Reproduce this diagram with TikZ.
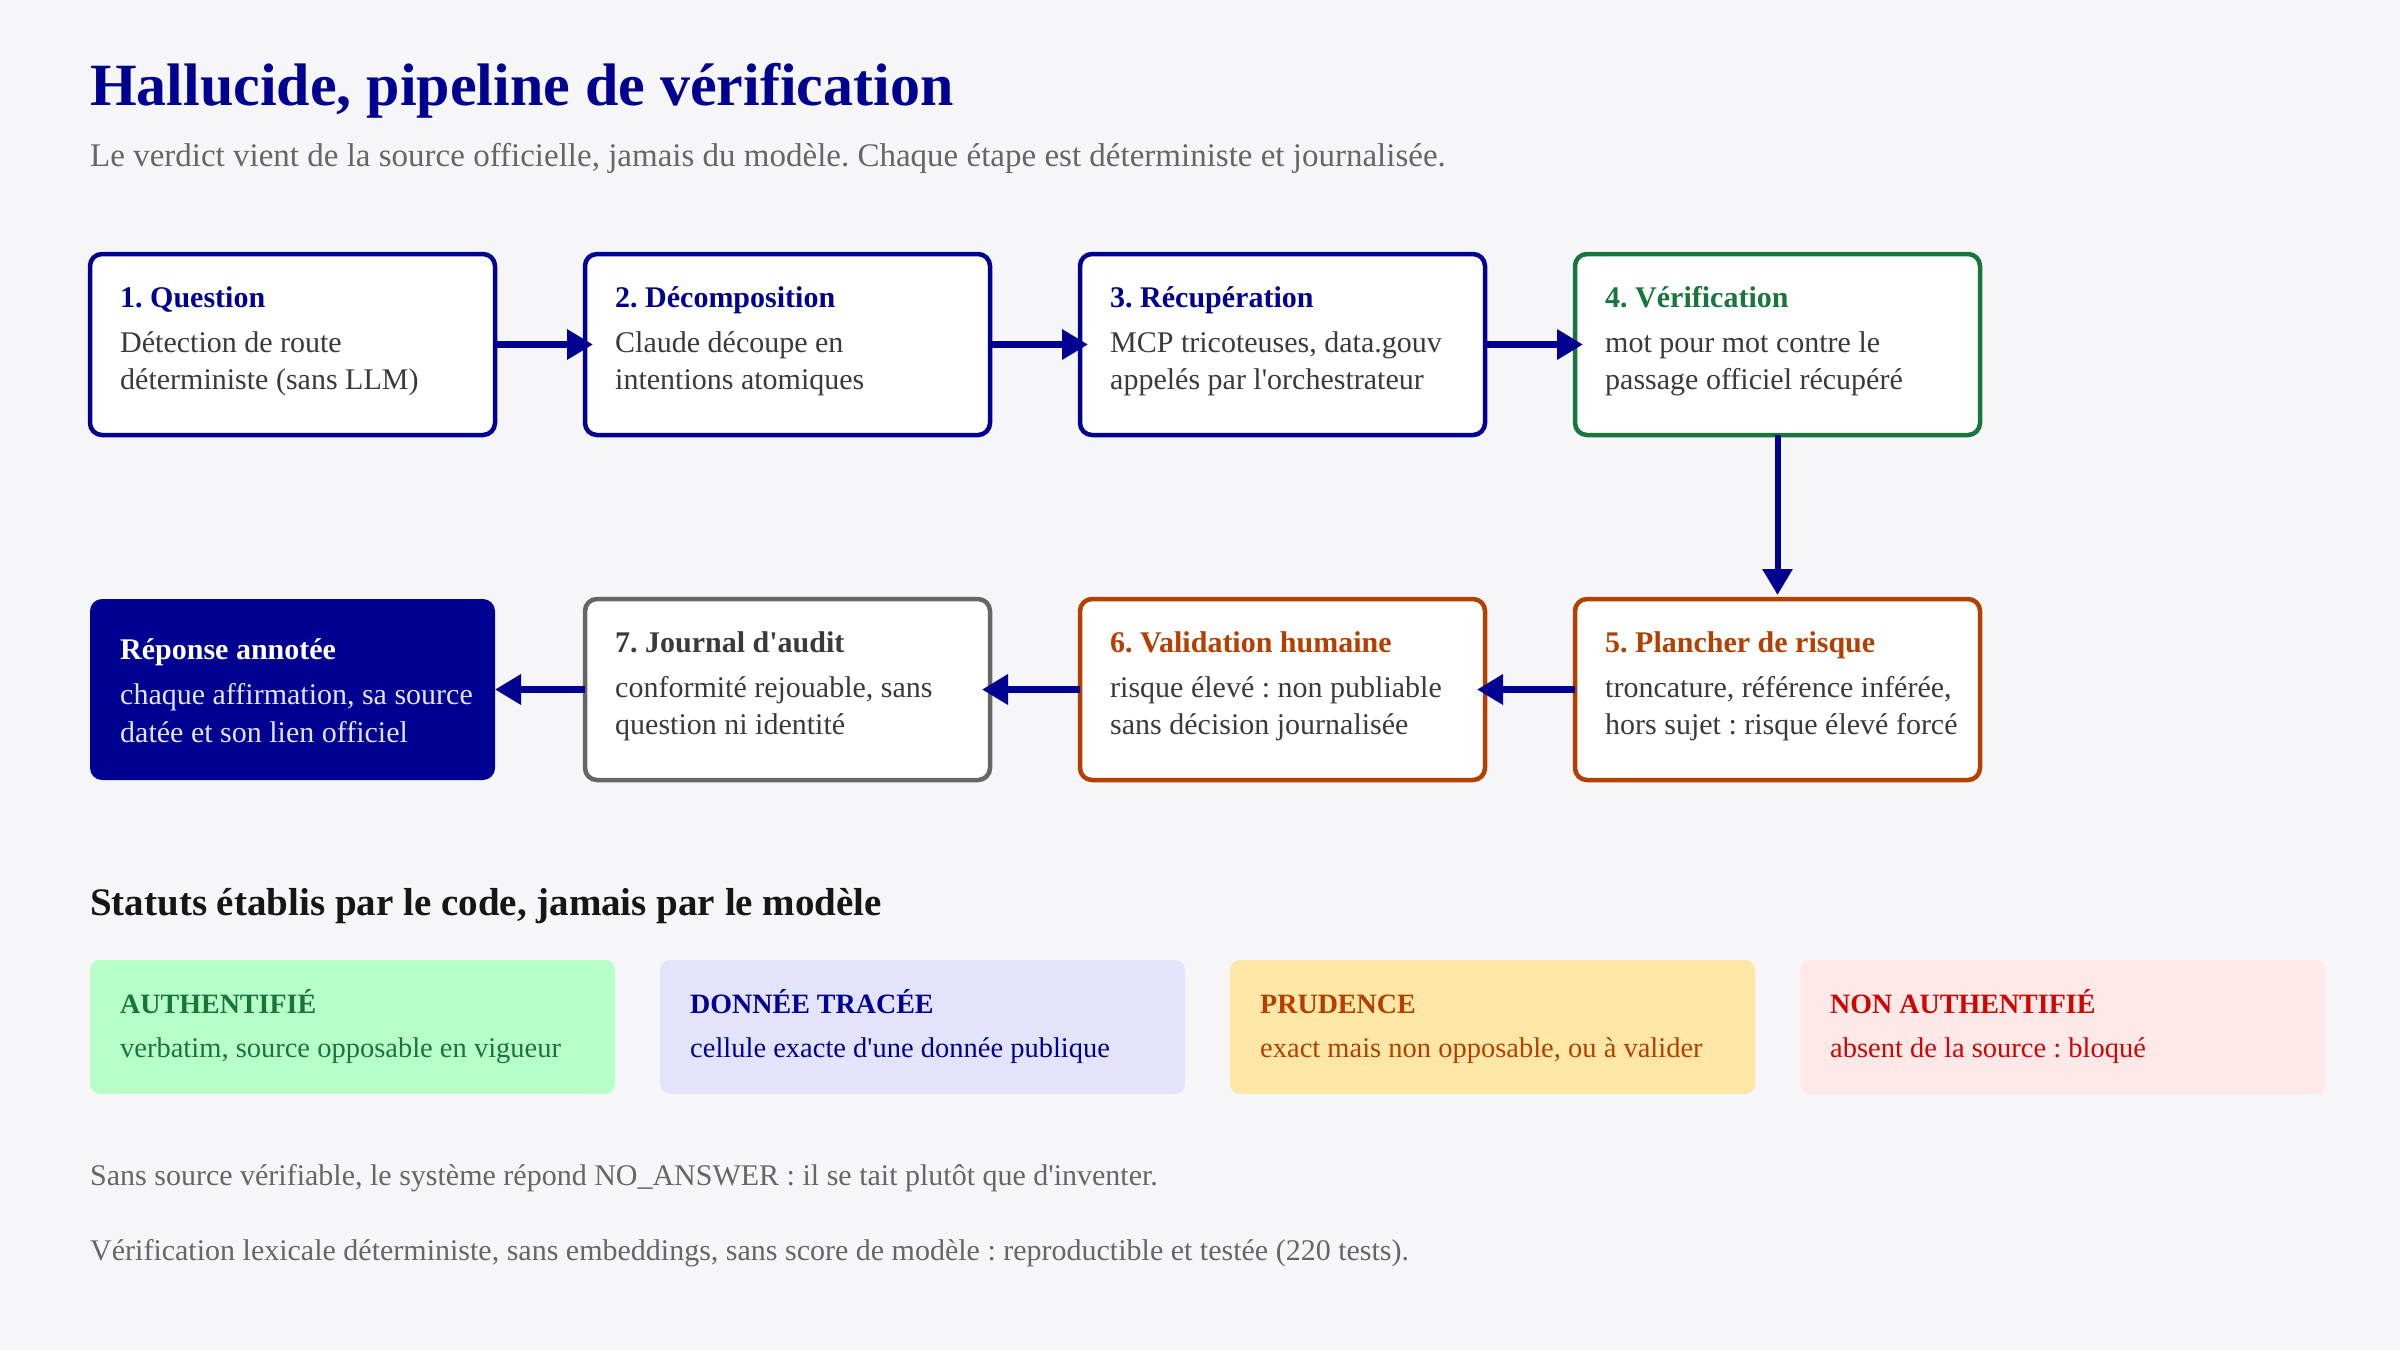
\documentclass[tikz,border=0pt]{standalone}
\usepackage{fontspec}
\setmainfont{Liberation Serif}
\usetikzlibrary{arrows.meta}
\frenchspacing
\definecolor{bleu}{HTML}{000091}
\definecolor{vert}{HTML}{18753C}
\definecolor{orangeF}{HTML}{B34000}
\definecolor{rouge}{HTML}{CE0500}
\definecolor{grisB}{HTML}{666666}
\definecolor{corps}{HTML}{3A3A3A}
\definecolor{fond}{HTML}{F6F6F8}
\definecolor{titre}{HTML}{161616}
\definecolor{bgvert}{HTML}{B8FEC9}
\definecolor{bgbleu}{HTML}{E3E3FD}
\definecolor{bgjaune}{HTML}{FEE7A6}
\definecolor{bgrouge}{HTML}{FFE8E8}
\newcommand{\apos}{\textquotesingle}
\tikzset{
  stepbox/.style={draw, line width=4.5pt, rounded corners=12pt, fill=white,
    minimum width=405pt, minimum height=181pt, anchor=north west, inner sep=0pt, outer sep=0pt},
  statbox/.style={rounded corners=10pt, minimum width=525pt, minimum height=134pt,
    anchor=north west, inner sep=0pt, outer sep=0pt},
  hd/.style={anchor=base west, inner sep=0pt, font=\fontsize{30}{36}\selectfont\bfseries},
  bd/.style={anchor=base west, inner sep=0pt, font=\fontsize{30}{36}\selectfont, text=corps},
  sthd/.style={anchor=base west, inner sep=0pt, font=\fontsize{28}{34}\selectfont\bfseries},
  stbd/.style={anchor=base west, inner sep=0pt, font=\fontsize{28.5}{34}\selectfont},
  flowh/.style={line width=6.5pt, draw=bleu, -{Triangle[length=26pt,width=29pt]}, shorten >=-8pt},
  flowv/.style={line width=6pt, draw=bleu, -{Triangle[length=26pt,width=29pt]}, shorten >=4pt},
}
\begin{document}
\begin{tikzpicture}[x=1pt,y=-1pt]
\fill[fond] (0,0) rectangle (2400,1350);
\useasboundingbox (0,0) rectangle (2400,1350);

% title
\node[anchor=base west, inner sep=0pt, text=bleu, font=\fontsize{60}{70}\selectfont\bfseries] (title) at (90,105) {Hallucide, pipeline de vérification};
\node[anchor=base west, inner sep=0pt, text=grisB, font=\fontsize{33}{38}\selectfont] (subtitle) at (90,166) {Le verdict vient de la source officielle, jamais du modèle. Chaque étape est déterministe et journalisée.};

% row 1
\node[stepbox, draw=bleu] (b1) at (90,254) {};
\node[stepbox, draw=bleu] (b2) at (585,254) {};
\node[stepbox, draw=bleu] (b3) at (1080,254) {};
\node[stepbox, draw=vert] (b4) at (1575,254) {};
% row 2
\node[stepbox, draw=none, fill=bleu] (resp) at (90,599) {};
\node[stepbox, draw=grisB] (b7) at (585,599) {};
\node[stepbox, draw=orangeF] (b6) at (1080,599) {};
\node[stepbox, draw=orangeF] (b5) at (1575,599) {};

% texts row 1
\node[hd, text=bleu] (t1) at (120,307) {1. Question};
\node[bd] (t1a) at (120,352) {Détection de route};
\node[bd] (t1b) at (120,389) {déterministe (sans LLM)};
\node[hd, text=bleu] (t2) at (615,307) {2. Décomposition};
\node[bd] (t2a) at (615,352) {Claude découpe en};
\node[bd] (t2b) at (615,389) {intentions atomiques};
\node[hd, text=bleu] (t3) at (1110,307) {3. Récupération};
\node[bd] (t3a) at (1110,352) {MCP tricoteuses, data.gouv};
\node[bd] (t3b) at (1110,389) {appelés par l\apos orchestrateur};
\node[hd, text=vert] (t4) at (1605,307) {4. Vérification};
\node[bd] (t4a) at (1605,352) {mot pour mot contre le};
\node[bd] (t4b) at (1605,389) {passage officiel récupéré};

% texts row 2
\node[hd, text=white] (tr) at (120,659) {Réponse annotée};
\node[bd, text=bgbleu] (tra) at (120,704) {chaque affirmation, sa source};
\node[bd, text=bgbleu] (trb) at (120,742) {datée et son lien officiel};
\node[hd, text=corps] (t7) at (615,652) {7. Journal d\apos audit};
\node[bd] (t7a) at (615,697) {conformité rejouable, sans};
\node[bd] (t7b) at (615,734) {question ni identité};
\node[hd, text=orangeF] (t6) at (1110,652) {6. Validation humaine};
\node[bd] (t6a) at (1110,697) {risque élevé : non publiable};
\node[bd] (t6b) at (1110,734) {sans décision journalisée};
\node[hd, text=orangeF] (t5) at (1605,652) {5. Plancher de risque};
\node[bd] (t5a) at (1605,697) {troncature, référence inférée,};
\node[bd] (t5b) at (1605,734) {hors sujet : risque élevé forcé};

% arrows
\draw[flowh] (b1.east) -- (b2.west);
\draw[flowh] (b2.east) -- (b3.west);
\draw[flowh] (b3.east) -- (b4.west);
\draw[flowv] (b4.south) -- (b5.north);
\draw[flowh] (b5.west) -- (b6.east);
\draw[flowh] (b6.west) -- (b7.east);
\draw[flowh, shorten >=0pt] (b7.west) -- (resp.east);

% statuts
\node[anchor=base west, inner sep=0pt, text=titre, font=\fontsize{39}{44}\selectfont\bfseries] (sttitle) at (90,915) {Statuts établis par le code, jamais par le modèle};

\node[statbox, fill=bgvert] (s1) at (90,960) {};
\node[statbox, fill=bgbleu] (s2) at (660,960) {};
\node[statbox, fill=bgjaune] (s3) at (1230,960) {};
\node[statbox, fill=bgrouge] (s4) at (1800,960) {};

\node[sthd, text=vert] (s1h) at (120,1013) {AUTHENTIFIÉ};
\node[stbd, text=vert] (s1b) at (120,1057) {verbatim, source opposable en vigueur};
\node[sthd, text=bleu] (s2h) at (690,1013) {DONNÉE TRACÉE};
\node[stbd, text=bleu] (s2b) at (690,1057) {cellule exacte d\apos une donnée publique};
\node[sthd, text=orangeF] (s3h) at (1260,1013) {PRUDENCE};
\node[stbd, text=orangeF] (s3b) at (1260,1057) {exact mais non opposable, ou à valider};
\node[sthd, text=rouge] (s4h) at (1830,1013) {NON AUTHENTIFIÉ};
\node[stbd, text=rouge] (s4b) at (1830,1057) {absent de la source : bloqué};

% footer
\node[anchor=base west, inner sep=0pt, text=grisB, font=\fontsize{30}{36}\selectfont] (f1) at (90,1185) {Sans source vérifiable, le système répond NO\_ANSWER : il se tait plutôt que d\apos inventer.};
\node[anchor=base west, inner sep=0pt, text=grisB, font=\fontsize{30}{36}\selectfont] (f2) at (90,1260) {Vérification lexicale déterministe, sans embeddings, sans score de modèle : reproductible et testée (220 tests).};
\end{tikzpicture}
\end{document}
